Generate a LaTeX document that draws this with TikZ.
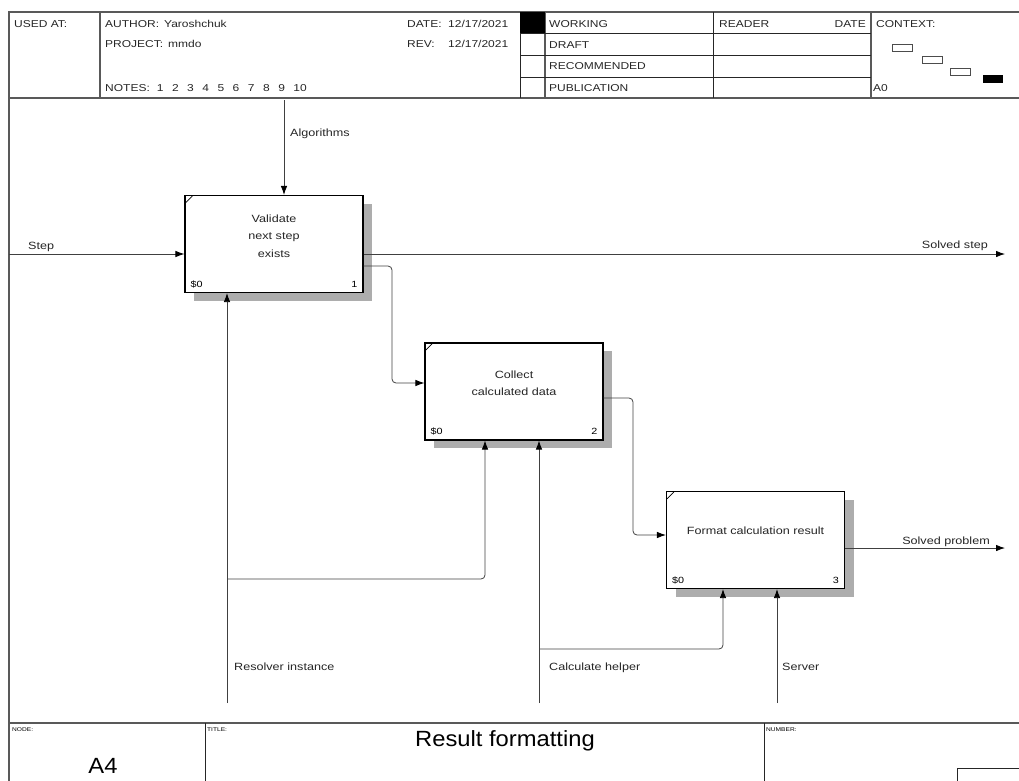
\documentclass[tikz,border=0pt]{standalone}
\usepackage{fontspec}
\setmainfont{Liberation Sans}[FakeStretch=1.2]
\newfontfamily\titlefont{Liberation Sans}[FakeStretch=1.08]
\usetikzlibrary{arrows.meta,calc,shadows}

\begin{document}
\begin{tikzpicture}[x=1pt, y=-1pt,
    frame/.style={draw=black!65, line width=1.5pt},
    grid/.style={draw=black!85, line width=0.6pt},
    fn/.style={rectangle, draw=black, line width=1.1pt, fill=white,
               minimum width=178pt, minimum height=97pt, inner sep=0pt,
               drop shadow={shadow xshift=9pt, shadow yshift=-8pt, fill=black!32, opacity=1}},
    fntext/.style={align=center, inner sep=0pt, text=black!85, font=\fontsize{10.5}{17.5}\selectfont},
    lbl/.style={inner sep=0pt, anchor=base west, text=black!85, font=\fontsize{10.5}{12}\selectfont},
    hdr/.style={inner sep=0pt, anchor=base west, text=black!85, font=\fontsize{10}{12}\selectfont},
    tiny/.style={inner sep=0pt, anchor=base west, font=\fontsize{5.5}{7}\selectfont},
    corner/.style={inner sep=0pt, font=\fontsize{9}{10}\selectfont},
    tr/.style={-{Latex[length=9pt, width=6.5pt, black]}, draw=black!75, line width=0.8pt, rounded corners=4pt}
]
\useasboundingbox (0,0) rectangle (1019,780);

% form frame
\draw[frame] (1030,12) -- (9,12) -- (9,790);
\draw[frame] (9,98) -- (1030,98);
\draw[frame] (9,723) -- (1030,723);
\draw[frame] (100,12) -- (100,98);
\draw[grid] (520,12) -- (520,98);
\draw[frame] (545,12) -- (545,98);
\draw[grid] (713,12) -- (713,98);
\draw[frame] (871,12) -- (871,98);
\draw[grid] (520,33) -- (871,33);
\draw[grid] (520,55) -- (871,55);
\draw[grid] (520,77) -- (871,77);
\fill[black] (520,12) rectangle (545,33);
\draw[grid] (205,723) -- (205,790);
\draw[grid] (764,723) -- (764,790);
\draw[grid] (957,790) -- (957,768) -- (1030,768);

% context boxes
\draw[black!70, line width=0.6pt] (892,44) rectangle (912,51);
\draw[black!70, line width=0.6pt] (922,56) rectangle (942,63);
\draw[black!70, line width=0.6pt] (950,68) rectangle (970,75);
\fill[black] (983,75) rectangle (1003,83);

% header texts
\node[hdr] (usedat) at (14,27) {USED AT:};
\node[hdr] (author) at (105,27) {AUTHOR:\hspace{5pt}Yaroshchuk};
\node[hdr] (project) at (105,47) {PROJECT:\hspace{5pt}mmdo};
\node[hdr] (notes) at (105,91) {NOTES:\hspace{7pt}1\hspace{8.5pt}2\hspace{8.5pt}3\hspace{8.5pt}4\hspace{8.5pt}5\hspace{8.5pt}6\hspace{8.5pt}7\hspace{8.5pt}8\hspace{8.5pt}9\hspace{8.5pt}10};
\node[hdr] (date) at (407,27) {DATE:};
\node[hdr] (datev) at (448,27) {12/17/2021};
\node[hdr] (rev) at (407,47) {REV:};
\node[hdr] (revv) at (448,47) {12/17/2021};
\node[hdr] (working) at (549,27) {WORKING};
\node[hdr] (draft) at (549,48) {DRAFT};
\node[hdr] (recommended) at (549,69) {RECOMMENDED};
\node[hdr] (publication) at (549,91) {PUBLICATION};
\node[hdr] (reader) at (719,27) {READER};
\node[hdr, anchor=base east] (readerdate) at (866,27) {DATE};
\node[hdr] (context) at (876,27) {CONTEXT:};
\node[hdr] (contextnode) at (873,91) {A0};

% footer texts
\node[tiny] (nodelbl) at (12,731) {NODE:};
\node[tiny] (titlelbl) at (207,731) {TITLE:};
\node[tiny] (numberlbl) at (766,731) {NUMBER:};
\node[inner sep=0pt, anchor=base, font=\titlefont\fontsize{22}{24}\selectfont] (nodeid) at (103,773) {A4};
\node[inner sep=0pt, anchor=base, font=\titlefont\fontsize{22}{24}\selectfont] (title) at (505,746) {Result formatting};

% activities
\node[fn] (validate) at (274,244) {};
\node[fn] (collect) at (514,391.5) {};
\node[fn] (format) at (755.5,540) {};
\node[fntext] (validate_t) at (274,236) {Validate\\next step\\exists};
\node[fntext] (collect_t) at (514,383) {Collect\\calculated data};
\node[fntext] (format_t) at (755.5,531) {Format calculation result};
\foreach \b in {validate,collect,format}
    \draw[black, line width=0.6pt] ($(\b.north west)+(1,8)$) -- ($(\b.north west)+(8,1)$);
\node[corner, anchor=base west] (validate_c) at ($(validate.south west)+(6,-6)$) {\$0};
\node[corner, anchor=base east] (validate_n) at ($(validate.south east)+(-6,-6)$) {1};
\node[corner, anchor=base west] (collect_c) at ($(collect.south west)+(6,-6)$) {\$0};
\node[corner, anchor=base east] (collect_n) at ($(collect.south east)+(-6,-6)$) {2};
\node[corner, anchor=base west] (format_c) at ($(format.south west)+(6,-6)$) {\$0};
\node[corner, anchor=base east] (format_n) at ($(format.south east)+(-6,-6)$) {3};

% boundary ends and bends
\coordinate (algorithms) at (284,100);
\coordinate (step) at (9,254);
\coordinate (solvedstep) at (1005,254);
\coordinate (solvedproblem) at (1005,548);
\coordinate (resolver) at (227,703);
\coordinate (helper) at (539,703);
\coordinate (server) at (777,703);
\coordinate (v2c) at (392,266);
\coordinate (v2c_b) at (392,383);
\coordinate (c2f) at (633,398);
\coordinate (c2f_b) at (633,535);
\coordinate (resolver_b) at (485,579);
\coordinate (helper_b) at (723,649);

% arrows
\draw[tr] (algorithms) -- (algorithms |- validate.north);
\draw[tr] (step) -- (step -| validate.west);
\draw[tr] (validate.east |- solvedstep) -- (solvedstep);
\draw[tr] (validate.east |- v2c) -- (v2c) -- (v2c_b) -- (collect.west |- v2c_b);
\draw[tr] (collect.east |- c2f) -- (c2f) -- (c2f_b) -- (format.west |- c2f_b);
\draw[tr] (format.east |- solvedproblem) -- (solvedproblem);
\draw[tr] (resolver) -- (resolver |- validate.south);
\draw[tr] (resolver |- resolver_b) -- (resolver_b) -- (resolver_b |- collect.south);
\draw[tr] (helper) -- (helper |- collect.south);
\draw[tr] (helper |- helper_b) -- (helper_b) -- (helper_b |- format.south);
\draw[tr] (server) -- (server |- format.south);

% arrow labels
\node[lbl] (algorithms_l) at (290,136) {Algorithms};
\node[lbl] (step_l) at (28,249) {Step};
\node[lbl, anchor=base east] (solvedstep_l) at (988,248) {Solved step};
\node[lbl, anchor=base east] (solvedproblem_l) at (990,544) {Solved problem};
\node[lbl] (resolver_l) at (234,670) {Resolver instance};
\node[lbl] (helper_l) at (549,670) {Calculate helper};
\node[lbl] (server_l) at (782,670) {Server};
\end{tikzpicture}
\end{document}
